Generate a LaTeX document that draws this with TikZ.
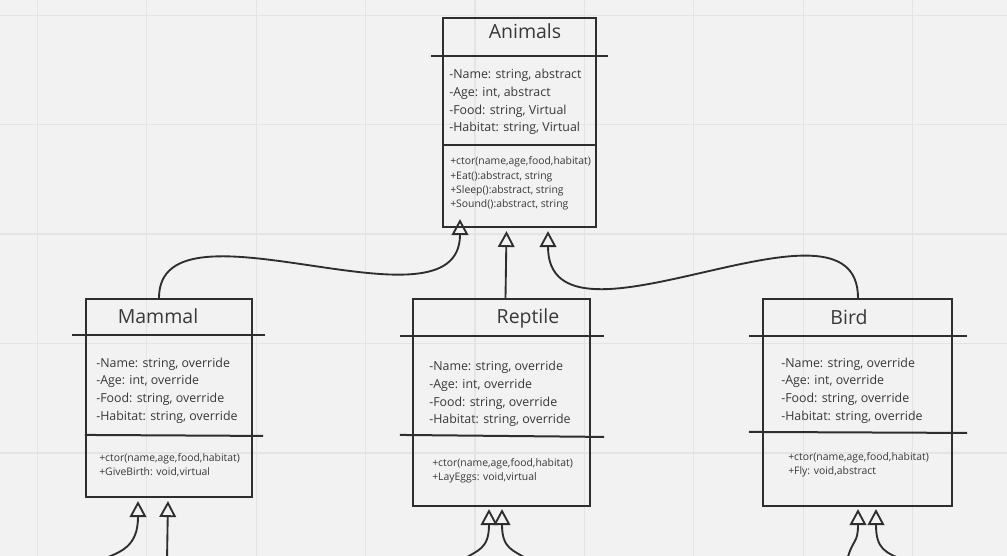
\documentclass[tikz,border=0pt]{standalone}
\usepackage{fontspec}
\setmainfont{Open Sans}
\usepackage{xcolor}
\usetikzlibrary{arrows.meta,calc}
\definecolor{BoardGray}{HTML}{F2F2F2}
\definecolor{GridGray}{HTML}{E4E4E4}
\definecolor{InkGray}{HTML}{2E2E2E}
\definecolor{TextGray}{HTML}{383838}
\tikzset{
  classbox/.style={draw=InkGray,line width=1.6pt,inner sep=0pt},
  divider/.style={draw=InkGray,line width=1.5pt},
  classname/.style={font=\fontsize{14.6pt}{17pt}\selectfont,text=TextGray,inner sep=0pt},
  fields/.style={anchor=west,align=left,inner sep=0pt,text=TextGray,
              font=\fontsize{9.3pt}{13.2pt}\selectfont},
  methods/.style={anchor=west,align=left,inner sep=0pt,text=TextGray,
              font=\fontsize{7.8pt}{10.8pt}\selectfont},
  inherit/.style={-{Triangle[open,length=12pt,width=12.5pt]},line width=1.4pt,draw=InkGray},
  gridline/.style={draw=GridGray,line width=0.9pt}
}

\begin{document}
\begin{tikzpicture}[x=0.75pt,y=-0.75pt]
  \useasboundingbox (0,0) rectangle (1007,556);
  \fill[BoardGray] (0,0) rectangle (1007,556);
  \foreach \gx in {37.3,146.7,...,920} \draw[gridline] (\gx,0) -- (\gx,556);
  \foreach \gy in {15.3,124.7,...,560} \draw[gridline] (0,\gy) -- (1007,\gy);

  % class boxes
  \node[classbox,minimum width=114.75pt,minimum height=156.75pt] (animals) at (519.5,122.5) {};
  \node[classbox,minimum width=124.5pt,minimum height=148.5pt] (mammal) at (169,398) {};
  \node[classbox,minimum width=132.75pt,minimum height=155.25pt] (reptile) at (501.5,402.5) {};
  \node[classbox,minimum width=141.75pt,minimum height=155.25pt] (bird) at (857.5,402.5) {};

  % compartments
  \draw[divider] ($(animals.north west)+(-11,39)$) -- ($(animals.north east)+(11,39)$);
  \draw[divider] ($(animals.north west)+(0,128)$) -- ($(animals.north east)+(0,128)$);
  \draw[divider] ($(mammal.north west)+(-13,37)$) -- ($(mammal.north east)+(12,37)$);
  \draw[divider] ($(mammal.north west)+(0,137)$) -- ($(mammal.north east)+(10,138)$);
  \draw[divider] ($(reptile.north west)+(-12,38)$) -- ($(reptile.north east)+(13,38)$);
  \draw[divider] ($(reptile.north west)+(-12,137)$) -- ($(reptile.north east)+(13,139)$);
  \draw[divider] ($(bird.north west)+(-13,38)$) -- ($(bird.north east)+(14,38)$);
  \draw[divider] ($(bird.north west)+(-13,134)$) -- ($(bird.north east)+(14,135)$);

  % texts
  \node[classname] (animalsName) at (525,31) {Animals};
  \node[fields] (animalsFields) at (449,102) {-Name: string, abstract\\-Age: int, abstract\\-Food: string, Virtual\\-Habitat: string, Virtual};
  \node[methods] (animalsMethods) at (450,183.5) {+ctor(name,age,food,habitat)\\+Eat():abstract, string\\+Sleep():abstract, string\\+Sound():abstract, string};

  \node[classname] (mammalName) at (158,316) {Mammal};
  \node[fields] (mammalFields) at (96,390.5) {-Name: string, override\\-Age: int, override\\-Food: string, override\\-Habitat: string, override};
  \node[methods] (mammalMethods) at (99,465) {+ctor(name,age,food,habitat)\\+GiveBirth: void,virtual};

  \node[classname] (reptileName) at (528,318) {Reptile};
  \node[fields] (reptileFields) at (429,394) {-Name: string, override\\-Age: int, override\\-Food: string, override\\-Habitat: string, override};
  \node[methods] (reptileMethods) at (432,471) {+ctor(name,age,food,habitat)\\+LayEggs: void,virtual};

  \node[classname] (birdName) at (849,317) {Bird};
  \node[fields] (birdFields) at (781,390.5) {-Name: string, override\\-Age: int, override\\-Food: string, override\\-Habitat: string, override};
  \node[methods] (birdMethods) at (788,465) {+ctor(name,age,food,habitat)\\+Fly: void,abstract};

  % generalisation
  \draw[inherit] ($(mammal.north)+(-10,0)$) .. controls +(0,-109) and +(0,122) .. ($(animals.south)+(-59.5,-9)$);
  \draw[inherit] ($(reptile.north)+(4,0)$) -- ($(animals.south)+(-13,3)$);
  \draw[inherit] ($(bird.north)+(0.5,0)$) .. controls +(0,-122) and +(0,138) .. ($(animals.south)+(28.5,3)$);

  % incoming from below
  \coordinate (mammalInL) at (100,560);
  \coordinate (mammalInR) at (167,560);
  \coordinate (reptileInL) at (462,560);
  \coordinate (reptileInR) at (529,560);
  \coordinate (birdInL) at (847,560);
  \coordinate (birdInR) at (903,560);
  \draw[inherit] (mammalInL) .. controls +(22,-8) and +(0,45) .. ($(mammal.south)+(-31,3)$);
  \draw[inherit] (mammalInR) -- ($(mammal.south)+(-1,3)$);
  \draw[inherit] (reptileInL) .. controls +(16,-10) and +(0,40) .. ($(reptile.south)+(-12.5,2)$);
  \draw[inherit] (reptileInR) .. controls +(-16,-10) and +(0,40) .. ($(reptile.south)+(0.5,2)$);
  \draw[inherit] (birdInL) .. controls +(6,-22) and +(0,35) .. ($(bird.south)+(0.5,2)$);
  \draw[inherit] (birdInR) .. controls +(-18,-8) and +(0,40) .. ($(bird.south)+(18.5,2)$);
\end{tikzpicture}
\end{document}
